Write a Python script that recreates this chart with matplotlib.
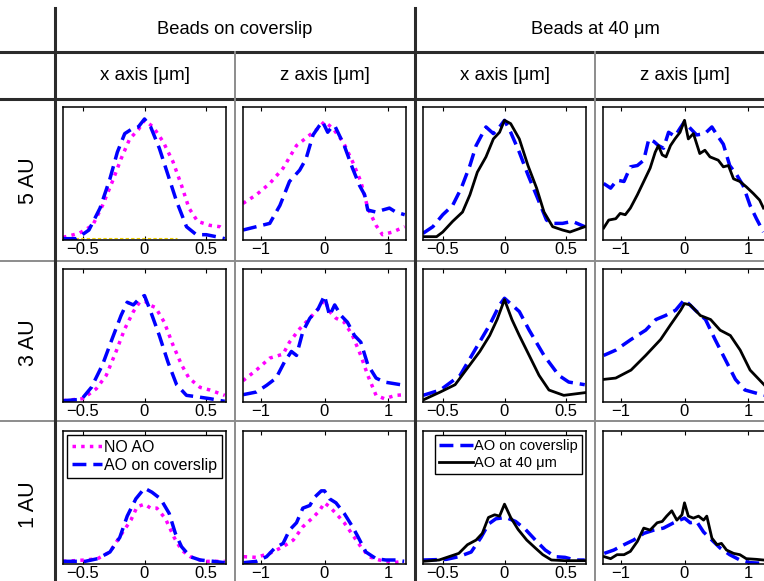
import numpy as np
import matplotlib
matplotlib.use('Agg')
import matplotlib.pyplot as plt
from matplotlib.lines import Line2D

plt.rcParams['font.family'] = ['Liberation Sans', 'DejaVu Sans']

# ---- data (profiles, normalised to axis height) ----
# row 1: 5 AU
r1c1_noao_x = [-0.66, -0.53, -0.42, -0.34, -0.26, -0.19, -0.12, -0.05, 0, 0.07, 0.15, 0.23, 0.30, 0.36, 0.43, 0.53, 0.61, 0.65]
r1c1_noao_y = [0.02, 0.05, 0.11, 0.26, 0.44, 0.61, 0.76, 0.83, 0.90, 0.85, 0.74, 0.59, 0.41, 0.24, 0.14, 0.11, 0.10, 0.075]
r1c1_cov_x = [-0.66, -0.55, -0.45, -0.36, -0.28, -0.22, -0.16, -0.11, -0.05, 0, 0.05, 0.12, 0.19, 0.26, 0.34, 0.42, 0.50, 0.58, 0.65]
r1c1_cov_y = [0.01, 0.01, 0.075, 0.24, 0.46, 0.66, 0.80, 0.83, 0.85, 0.91, 0.85, 0.69, 0.49, 0.29, 0.10, 0.04, 0.04, 0.025, 0.01]
r1c1_stray_x = [-0.65, 0.26]
r1c1_stray_y = [0.0125, 0.0125]

r1c2_noao_x = [-1.28, -1.07, -0.86, -0.65, -0.44, -0.23, -0.10, 0, 0.13, 0.29, 0.44, 0.57, 0.68, 0.81, 0.91, 1.07, 1.26]
r1c2_noao_y = [0.275, 0.34, 0.425, 0.54, 0.71, 0.79, 0.84, 0.89, 0.84, 0.74, 0.59, 0.44, 0.24, 0.11, 0.04, 0.06, 0.10]
r1c2_cov_x = [-1.28, -1.07, -0.86, -0.70, -0.55, -0.39, -0.29, -0.18, -0.08, -0.03, 0.05, 0.10, 0.16, 0.21, 0.31, 0.44, 0.55, 0.63, 0.68, 0.81, 0.91, 1.02, 1.12, 1.26]
r1c2_cov_y = [0.075, 0.10, 0.125, 0.26, 0.44, 0.525, 0.61, 0.79, 0.86, 0.89, 0.81, 0.84, 0.86, 0.81, 0.71, 0.54, 0.41, 0.34, 0.225, 0.21, 0.225, 0.24, 0.21, 0.19]

r1c3_cov_x = [-0.66, -0.58, -0.50, -0.42, -0.35, -0.28, -0.23, -0.15, -0.09, -0.04, 0, 0.05, 0.12, 0.19, 0.27, 0.34, 0.39, 0.47, 0.55, 0.65]
r1c3_cov_y = [0.05, 0.10, 0.19, 0.26, 0.39, 0.56, 0.71, 0.85, 0.80, 0.85, 0.90, 0.81, 0.66, 0.49, 0.31, 0.15, 0.125, 0.125, 0.14, 0.10]
r1c3_40_x = [-0.66, -0.55, -0.50, -0.42, -0.34, -0.28, -0.22, -0.15, -0.09, -0.04, 0, 0.05, 0.12, 0.19, 0.26, 0.32, 0.39, 0.47, 0.53, 0.65]
r1c3_40_y = [0.025, 0.025, 0.06, 0.14, 0.21, 0.34, 0.51, 0.625, 0.76, 0.81, 0.90, 0.875, 0.76, 0.56, 0.39, 0.21, 0.10, 0.075, 0.06, 0.10]

r1c4_cov_x = [-1.27, -1.16, -1.06, -0.95, -0.85, -0.74, -0.64, -0.56, -0.48, -0.41, -0.33, -0.25, -0.15, -0.07, 0, 0.09, 0.19, 0.32, 0.43, 0.51, 0.61, 0.71, 0.82, 0.92, 1.03, 1.13, 1.24]
r1c4_cov_y = [0.425, 0.39, 0.45, 0.44, 0.55, 0.56, 0.60, 0.76, 0.74, 0.71, 0.69, 0.81, 0.78, 0.84, 0.89, 0.84, 0.79, 0.80, 0.85, 0.79, 0.72, 0.56, 0.49, 0.41, 0.26, 0.16, 0.06]
r1c4_40_x = [-1.27, -1.19, -1.08, -1.01, -0.93, -0.85, -0.74, -0.64, -0.54, -0.46, -0.41, -0.35, -0.29, -0.22, -0.15, -0.07, 0, 0.06, 0.14, 0.24, 0.32, 0.40, 0.53, 0.61, 0.69, 0.77, 0.87, 0.97, 1.08, 1.18, 1.24]
r1c4_40_y = [0.09, 0.15, 0.16, 0.20, 0.19, 0.24, 0.34, 0.44, 0.54, 0.66, 0.71, 0.64, 0.625, 0.71, 0.76, 0.81, 0.90, 0.76, 0.80, 0.65, 0.675, 0.625, 0.60, 0.55, 0.56, 0.46, 0.44, 0.40, 0.35, 0.30, 0.24]

# row 2: 3 AU
r2c1_cov_x = [-0.66, -0.51, -0.43, -0.34, -0.26, -0.19, -0.14, -0.09, -0.04, 0, 0.05, 0.12, 0.19, 0.26, 0.34, 0.42, 0.53, 0.65]
r2c1_cov_y = [0.01, 0.02, 0.11, 0.28, 0.48, 0.65, 0.75, 0.73, 0.78, 0.80, 0.68, 0.50, 0.30, 0.13, 0.05, 0.04, 0.025, 0.005]
r2c1_noao_x = [-0.66, -0.50, -0.39, -0.31, -0.23, -0.16, -0.09, -0.04, 0, 0.04, 0.09, 0.16, 0.23, 0.30, 0.36, 0.45, 0.53, 0.65]
r2c1_noao_y = [0.01, 0.025, 0.10, 0.20, 0.38, 0.55, 0.68, 0.75, 0.76, 0.73, 0.71, 0.60, 0.43, 0.28, 0.18, 0.11, 0.09, 0.05]

r2c2_noao_x = [-1.28, -1.07, -0.86, -0.65, -0.55, -0.39, -0.23, -0.10, 0, 0.08, 0.18, 0.31, 0.44, 0.57, 0.68, 0.81, 0.94, 1.12, 1.26]
r2c2_noao_y = [0.16, 0.24, 0.33, 0.36, 0.45, 0.55, 0.63, 0.70, 0.77, 0.68, 0.63, 0.60, 0.50, 0.35, 0.20, 0.05, 0.025, 0.05, 0.055]
r2c2_cov_x = [-1.28, -1.07, -0.91, -0.76, -0.63, -0.52, -0.44, -0.34, -0.23, -0.10, 0, 0.08, 0.16, 0.26, 0.36, 0.47, 0.57, 0.68, 0.81, 0.94, 1.07, 1.26]
r2c2_cov_y = [0.055, 0.075, 0.125, 0.18, 0.30, 0.38, 0.35, 0.53, 0.63, 0.70, 0.80, 0.65, 0.73, 0.65, 0.60, 0.50, 0.45, 0.28, 0.18, 0.15, 0.14, 0.125]

r2c3_cov_x = [-0.66, -0.52, -0.36, -0.24, -0.12, -0.04, 0, 0.06, 0.12, 0.20, 0.32, 0.44, 0.52, 0.65]
r2c3_cov_y = [0.05, 0.09, 0.20, 0.39, 0.58, 0.73, 0.78, 0.73, 0.68, 0.54, 0.35, 0.20, 0.15, 0.13]
r2c3_40_x = [-0.66, -0.52, -0.40, -0.28, -0.20, -0.12, -0.06, 0, 0.06, 0.12, 0.20, 0.28, 0.36, 0.48, 0.65]
r2c3_40_y = [0.015, 0.075, 0.13, 0.28, 0.38, 0.50, 0.62, 0.77, 0.62, 0.50, 0.35, 0.20, 0.09, 0.05, 0.07]

r2c4_cov_x = [-1.27, -1.08, -0.84, -0.61, -0.45, -0.30, -0.14, 0, 0.17, 0.33, 0.48, 0.64, 0.80, 0.95, 1.25]
r2c4_cov_y = [0.35, 0.39, 0.47, 0.54, 0.62, 0.65, 0.69, 0.77, 0.69, 0.62, 0.47, 0.32, 0.17, 0.09, 0.05]
r2c4_40_x = [-1.27, -1.08, -0.84, -0.61, -0.375, -0.22, -0.06, 0, 0.09, 0.25, 0.41, 0.56, 0.72, 0.875, 1.03, 1.25]
r2c4_40_y = [0.17, 0.18, 0.24, 0.35, 0.47, 0.58, 0.69, 0.74, 0.73, 0.65, 0.62, 0.54, 0.50, 0.39, 0.24, 0.13]

# row 3: 1 AU
r3c1_cov_x = [-0.66, -0.48, -0.38, -0.28, -0.20, -0.14, -0.07, 0, 0.06, 0.13, 0.20, 0.25, 0.30, 0.37, 0.45, 0.56, 0.65]
r3c1_cov_y = [0.02, 0.02, 0.04, 0.09, 0.20, 0.36, 0.49, 0.57, 0.54, 0.49, 0.38, 0.23, 0.13, 0.055, 0.03, 0.02, 0.01]
r3c1_noao_x = [-0.66, -0.48, -0.38, -0.28, -0.19, -0.11, -0.06, 0, 0.05, 0.10, 0.17, 0.24, 0.30, 0.37, 0.48, 0.65]
r3c1_noao_y = [0.02, 0.03, 0.04, 0.09, 0.22, 0.33, 0.43, 0.45, 0.42, 0.42, 0.34, 0.20, 0.105, 0.055, 0.02, 0.02]

r3c2_noao_x = [-1.27, -1.07, -0.86, -0.65, -0.49, -0.34, -0.18, -0.08, 0, 0.08, 0.18, 0.31, 0.44, 0.57, 0.70, 0.86, 1.07, 1.25]
r3c2_noao_y = [0.055, 0.05, 0.08, 0.13, 0.18, 0.28, 0.35, 0.40, 0.46, 0.43, 0.38, 0.31, 0.22, 0.13, 0.055, 0.03, 0.01, 0.02]
r3c2_cov_x = [-1.27, -1.07, -0.91, -0.78, -0.65, -0.55, -0.44, -0.34, -0.23, -0.16, -0.05, 0, 0.08, 0.18, 0.31, 0.44, 0.52, 0.65, 0.81, 0.96, 1.12, 1.25]
r3c2_cov_y = [0.01, 0.02, 0.055, 0.12, 0.155, 0.255, 0.31, 0.42, 0.44, 0.50, 0.55, 0.55, 0.49, 0.46, 0.38, 0.28, 0.21, 0.09, 0.04, 0.03, 0.03, 0.02]

r3c3_cov_x = [-0.66, -0.47, -0.37, -0.27, -0.19, -0.13, -0.07, 0.01, 0.09, 0.17, 0.25, 0.33, 0.41, 0.49, 0.57, 0.65]
r3c3_cov_y = [0.03, 0.035, 0.055, 0.09, 0.20, 0.30, 0.34, 0.35, 0.32, 0.26, 0.18, 0.105, 0.055, 0.05, 0.03, 0.03]
r3c3_40_x = [-0.66, -0.53, -0.45, -0.37, -0.30, -0.23, -0.18, -0.13, -0.08, -0.04, 0, 0.05, 0.11, 0.18, 0.25, 0.31, 0.38, 0.49, 0.65]
r3c3_40_y = [0.02, 0.03, 0.055, 0.08, 0.145, 0.18, 0.23, 0.35, 0.37, 0.36, 0.45, 0.35, 0.26, 0.18, 0.12, 0.07, 0.03, 0.025, 0.025]

r3c4_cov_x = [-1.26, -1.11, -0.95, -0.80, -0.64, -0.48, -0.33, -0.17, 0, 0.09, 0.19, 0.30, 0.43, 0.56, 0.71, 0.87, 1.03, 1.24]
r3c4_cov_y = [0.08, 0.105, 0.145, 0.18, 0.23, 0.255, 0.27, 0.31, 0.345, 0.31, 0.32, 0.24, 0.18, 0.12, 0.07, 0.03, 0.01, 0.005]
r3c4_40_x = [-1.26, -1.16, -1.06, -0.95, -0.85, -0.74, -0.64, -0.54, -0.43, -0.35, -0.28, -0.20, -0.12, -0.04, 0, 0.06, 0.14, 0.22, 0.30, 0.35, 0.43, 0.51, 0.58, 0.66, 0.77, 0.87, 0.97, 1.13, 1.24]
r3c4_40_y = [0.055, 0.04, 0.07, 0.07, 0.095, 0.17, 0.27, 0.255, 0.31, 0.32, 0.36, 0.40, 0.33, 0.37, 0.46, 0.36, 0.345, 0.36, 0.33, 0.36, 0.195, 0.145, 0.155, 0.105, 0.08, 0.07, 0.04, 0.035, 0.03]

group_titles = ['Beads on coverslip', 'Beads at 40 \u03bcm']
col_titles = ['x axis [\u03bcm]', 'z axis [\u03bcm]', 'x axis [\u03bcm]', 'z axis [\u03bcm]']
row_titles = ['5 AU', '3 AU', '1 AU']
x_ticks = [-0.5, 0, 0.5]
x_ticklabels = ['\u22120.5', '0', '0.5']
z_ticks = [-1, 0, 1]
z_ticklabels = ['\u22121', '0', '1']
legend_noao = 'NO AO'
legend_cov = 'AO on coverslip'
legend_40 = 'AO at 40 \u03bcm'

# ---- layout (pixels) ----
W, H = 764, 581
fig = plt.figure(figsize=(W / 100, H / 100), dpi=100)


def fx(px):
    return px / W


def fy(py):
    return 1 - py / H


def hline(y, x0, x1, lw, c):
    fig.add_artist(Line2D([fx(x0), fx(x1)], [fy(y), fy(y)], lw=lw, color=c, transform=fig.transFigure))


def vline(x, y0, y1, lw, c):
    fig.add_artist(Line2D([fx(x), fx(x)], [fy(y0), fy(y1)], lw=lw, color=c, transform=fig.transFigure))


dark = '#2b2b2b'
grey = '#8c8c8c'
hline(52, 0, W, 2.2, dark)
hline(99, 0, W, 2.2, dark)
hline(261, 0, W, 1.4, grey)
hline(421, 0, W, 1.4, grey)
vline(55, 8, H, 2.2, dark)
vline(415, 8, H, 2.2, dark)
vline(235, 52, H, 1.4, grey)
vline(595, 52, H, 1.4, grey)

fig.text(fx(235), fy(30), group_titles[0], ha='center', va='center', fontsize=13.2)
fig.text(fx(595), fy(30), group_titles[1], ha='center', va='center', fontsize=13.2)
col_left = [63, 243, 423, 603]
col_center = [145, 325, 505, 685]
row_top = [107, 269, 431]
for cx, t in zip(col_center, col_titles):
    fig.text(fx(cx), fy(76), t, ha='center', va='center', fontsize=13.5)
for ry, t in zip(row_top, row_titles):
    fig.text(fx(29), fy(ry + 74), t, ha='center', va='center', rotation=90, fontsize=15.5)

aw, ah = 163, 133
axes = []
for r in range(3):
    row = []
    for c in range(4):
        ax = fig.add_axes([fx(col_left[c]), fy(row_top[r] + ah), aw / W, ah / H])
        if c % 2 == 0:
            ax.set_xlim(-0.66, 0.66)
            ax.set_xticks(x_ticks)
            ax.set_xticklabels(x_ticklabels)
        else:
            ax.set_xlim(-1.28, 1.28)
            ax.set_xticks(z_ticks)
            ax.set_xticklabels(z_ticklabels)
        ax.set_ylim(0, 1)
        ax.set_yticks([])
        ax.tick_params(axis='x', direction='in', top=True, length=3, width=0.8, pad=1.5, labelsize=12)
        for s in ax.spines.values():
            s.set_linewidth(1.1)
        row.append(ax)
    axes.append(row)

kw_noao = dict(color='#ff00ff', ls=(0, (1, 1.5)), lw=2.5)
kw_cov = dict(color='#0000ff', ls=(0, (4, 2)), lw=2.5)
kw_40 = dict(color='black', ls='-', lw=2.0)

axes[0][0].plot(r1c1_stray_x, r1c1_stray_y, color='#f2d200', ls=(0, (3, 2)), lw=0.8)
axes[0][0].plot(r1c1_noao_x, r1c1_noao_y, **kw_noao)
axes[0][0].plot(r1c1_cov_x, r1c1_cov_y, **kw_cov)
axes[0][1].plot(r1c2_noao_x, r1c2_noao_y, **kw_noao)
axes[0][1].plot(r1c2_cov_x, r1c2_cov_y, **kw_cov)
axes[0][2].plot(r1c3_cov_x, r1c3_cov_y, **kw_cov)
axes[0][2].plot(r1c3_40_x, r1c3_40_y, **kw_40)
axes[0][3].plot(r1c4_cov_x, r1c4_cov_y, **kw_cov)
axes[0][3].plot(r1c4_40_x, r1c4_40_y, **kw_40)

axes[1][0].plot(r2c1_noao_x, r2c1_noao_y, **kw_noao)
axes[1][0].plot(r2c1_cov_x, r2c1_cov_y, **kw_cov)
axes[1][1].plot(r2c2_noao_x, r2c2_noao_y, **kw_noao)
axes[1][1].plot(r2c2_cov_x, r2c2_cov_y, **kw_cov)
axes[1][2].plot(r2c3_cov_x, r2c3_cov_y, **kw_cov)
axes[1][2].plot(r2c3_40_x, r2c3_40_y, **kw_40)
axes[1][3].plot(r2c4_cov_x, r2c4_cov_y, **kw_cov)
axes[1][3].plot(r2c4_40_x, r2c4_40_y, **kw_40)

axes[2][0].plot(r3c1_noao_x, r3c1_noao_y, label=legend_noao, **kw_noao)
axes[2][0].plot(r3c1_cov_x, r3c1_cov_y, label=legend_cov, **kw_cov)
axes[2][1].plot(r3c2_noao_x, r3c2_noao_y, **kw_noao)
axes[2][1].plot(r3c2_cov_x, r3c2_cov_y, **kw_cov)
axes[2][2].plot(r3c3_cov_x, r3c3_cov_y, label=legend_cov, **kw_cov)
axes[2][2].plot(r3c3_40_x, r3c3_40_y, label=legend_40, **kw_40)
axes[2][3].plot(r3c4_cov_x, r3c4_cov_y, **kw_cov)
axes[2][3].plot(r3c4_40_x, r3c4_40_y, **kw_40)

leg_kw = dict(fancybox=False, edgecolor='black', framealpha=1,
              borderaxespad=0.25, handletextpad=0.1,
              labelspacing=0.2, borderpad=0.3)
l1 = axes[2][0].legend(loc='upper left', fontsize=11.5, handlelength=1.9, **leg_kw)
l2 = axes[2][2].legend(loc='upper right', fontsize=10.5, handlelength=2.3, **leg_kw)
for l in (l1, l2):
    l.get_frame().set_linewidth(1.0)

fig.savefig('out.png', dpi=100)
